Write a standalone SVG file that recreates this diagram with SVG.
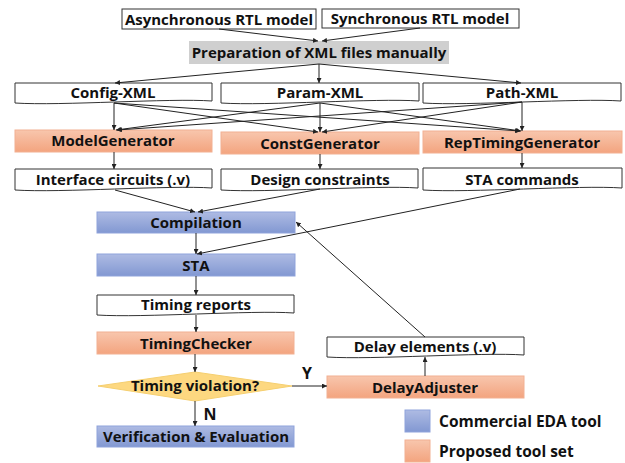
<svg xmlns="http://www.w3.org/2000/svg" width="625" height="463" viewBox="0 0 625 463">
<style>
  text{font-family:"Open Sans","Noto Sans","Liberation Sans",sans-serif;font-weight:bold;font-size:15px;fill:#111;text-anchor:middle}
  .lg{font-size:15.5px;text-anchor:start}
  .yn{font-size:16px}
  .w{fill:#fff;stroke:#333;stroke-width:1}
  .g{fill:#cfcfcf;stroke:none}
  .o{fill:url(#og);stroke:#f2b092;stroke-width:1}
  .b{fill:url(#bg);stroke:#8fa3db;stroke-width:1}
  .c line,.c path{stroke:#222;stroke-width:1;fill:none;marker-end:url(#ah)}
</style>
<defs>
  <linearGradient id="og" x1="0" y1="0" x2="0" y2="1"><stop offset="0" stop-color="#f8c6ad"/><stop offset="1" stop-color="#f3a47f"/></linearGradient>
  <linearGradient id="bg" x1="0" y1="0" x2="0" y2="1"><stop offset="0" stop-color="#aebbe3"/><stop offset="1" stop-color="#8298d2"/></linearGradient>
  <marker id="ah" viewBox="0 0 10 10" refX="10" refY="5" markerWidth="5" markerHeight="5" orient="auto" markerUnits="userSpaceOnUse"><path d="M0,0 L10,5 L0,10 Z" fill="#222"/></marker>
</defs>

<g id="async"><rect class="w" x="122" y="9" width="194" height="20"/><text x="219" y="25">Asynchronous RTL model</text></g>
<g id="sync"><rect class="w" x="322" y="9" width="197" height="19"/><text x="420" y="24">Synchronous RTL model</text></g>
<g id="prep"><rect class="g" x="189" y="41" width="260" height="23"/><text x="319" y="58">Preparation of XML files manually</text></g>

<g id="config"><path class="w" d="M15,83 H212 V101 C170,98 60,106 15,103 Z"/><text x="113" y="98">Config-XML</text></g>
<g id="param"><path class="w" d="M221,83 H419 V101 C376,98 266,106 221,103 Z"/><text x="320" y="98">Param-XML</text></g>
<g id="path"><path class="w" d="M423,83 H621 V101 C578,98 468,106 423,103 Z"/><text x="522" y="98">Path-XML</text></g>

<g id="modelgen"><rect class="o" x="15" y="130" width="197" height="22"/><text x="113" y="146">ModelGenerator</text></g>
<g id="constgen"><rect class="o" x="221" y="132" width="198" height="22"/><text x="320" y="149">ConstGenerator</text></g>
<g id="reptiming"><rect class="o" x="423" y="131" width="199" height="22"/><text x="522" y="148">RepTimingGenerator</text></g>

<g id="iface"><path class="w" d="M15,169 H212 V188 C170,185 60,193 15,190 Z"/><text x="113" y="185">Interface circuits (.v)</text></g>
<g id="design"><path class="w" d="M221,169 H418 V188 C376,185 266,193 221,190 Z"/><text x="320" y="185">Design constraints</text></g>
<g id="stacmd"><path class="w" d="M423,168 H622 V188 C580,185 468,193 423,190 Z"/><text x="522" y="185">STA commands</text></g>

<g id="compilation"><rect class="b" x="97" y="212" width="198" height="21"/><text x="196" y="228">Compilation</text></g>
<g id="sta"><rect class="b" x="97" y="254" width="198" height="22"/><text x="196" y="271">STA</text></g>
<g id="reports"><path class="w" d="M97,295 H294 V313 C252,310 142,318 97,315 Z"/><text x="196" y="310">Timing reports</text></g>
<g id="checker"><rect class="o" x="97" y="332" width="197" height="22"/><text x="196" y="349">TimingChecker</text></g>
<g id="violation"><polygon points="98,386 195,372 292,386 195,401" fill="#fdd880" stroke="#f5cf70" stroke-width="1"/><text x="195" y="391">Timing violation?</text></g>
<g id="verify"><rect class="b" x="97" y="426" width="197" height="21"/><text x="196" y="442">Verification &amp; Evaluation</text></g>

<g id="delayel"><path class="w" d="M327,337 H524 V355 C482,352 372,360 327,357 Z"/><text x="425" y="352">Delay elements (.v)</text></g>
<g id="adjuster"><rect class="o" x="327" y="376" width="197" height="22"/><text x="425" y="393">DelayAdjuster</text></g>

<g id="legend">
  <rect class="b" x="405" y="410" width="25" height="22"/>
  <text class="lg" x="439" y="427">Commercial EDA tool</text>
  <rect class="o" x="405" y="440" width="25" height="22"/>
  <text class="lg" x="439" y="457">Proposed tool set</text>
</g>

<g id="connectors" class="c">
  <line x1="219" y1="29" x2="318" y2="41"/>
  <line x1="420" y1="28" x2="322" y2="41"/>
  <line x1="319" y1="64" x2="115" y2="83"/>
  <line x1="319" y1="64" x2="319" y2="83"/>
  <line x1="319" y1="64" x2="521" y2="83"/>
  <line x1="114" y1="103" x2="114" y2="130"/>
  <line x1="114" y1="103" x2="318" y2="132"/>
  <line x1="114" y1="103" x2="520" y2="131"/>
  <line x1="320" y1="103" x2="116" y2="130"/>
  <line x1="320" y1="103" x2="320" y2="132"/>
  <line x1="320" y1="103" x2="521" y2="131"/>
  <line x1="522" y1="102" x2="117" y2="130"/>
  <line x1="522" y1="102" x2="322" y2="132"/>
  <line x1="522" y1="102" x2="522" y2="131"/>
  <line x1="114" y1="152" x2="114" y2="169"/>
  <line x1="320" y1="154" x2="320" y2="169"/>
  <line x1="522" y1="153" x2="522" y2="168"/>
  <line x1="115" y1="190" x2="195" y2="212"/>
  <line x1="320" y1="189" x2="198" y2="212"/>
  <line x1="520" y1="189" x2="197" y2="254"/>
  <line x1="196" y1="233" x2="196" y2="254"/>
  <line x1="196" y1="276" x2="196" y2="295"/>
  <line x1="196" y1="315" x2="196" y2="332"/>
  <line x1="195" y1="354" x2="195" y2="372"/>
  <line x1="195" y1="401" x2="195" y2="426"/>
  <line x1="292" y1="386" x2="327" y2="386"/>
  <line x1="425" y1="376" x2="425" y2="357"/>
  <line x1="425" y1="337" x2="296" y2="222"/>
</g>
<text class="yn" x="307" y="379">Y</text>
<text class="yn" x="210" y="420">N</text>
</svg>
